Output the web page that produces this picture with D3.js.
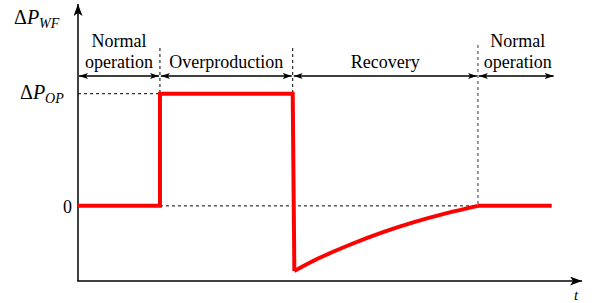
<!DOCTYPE html>
<html>
<head>
<meta charset="utf-8">
<script src="https://cdn.jsdelivr.net/npm/d3@7"></script>
<style>
  body { margin: 0; background: #fff; }
</style>
</head>
<body>
<svg width="592" height="303" font-family="'Liberation Serif', 'Times New Roman', 'DejaVu Serif', serif"></svg>
<script>
// phase boundaries (time units), and labels of each phase
let phaseBounds = [0, 1.0, 2.62, 4.88, 5.78];
let phaseLabels = [["Normal", "operation"], ["Overproduction"], ["Recovery"], ["Normal", "operation"]];

// power deviation curve (time, value)
let powerT = [0, 1.0, 1.0, 2.62, 2.64, 2.93, 3.34, 3.74, 4.08, 4.5, 4.88, 5.78];
let powerV = [0, 0, 1, 1, -0.58, -0.47, -0.34, -0.23, -0.15, -0.065, 0, 0];

let yTicks = [0, 1];
let yTickLabels = ["0", "ΔP_OP"];

let serif = "'Liberation Serif', 'Times New Roman', 'DejaVu Serif', serif";

let svg = d3.select("svg"),
    width = +svg.attr("width"),
    height = +svg.attr("height");

let x = d3.scaleLinear().domain([0, 6.15]).range([78, 582]);
let y = d3.scaleLinear().domain([-0.67, 1.8]).range([281, 4]);

let defs = svg.append("defs");
function marker(id, w, h, flip) {
    defs.append("marker")
        .attr("id", id)
        .attr("viewBox", `0 ${-h/2} ${w} ${h}`)
        .attr("refX", w).attr("refY", 0)
        .attr("markerUnits", "userSpaceOnUse")
        .attr("markerWidth", w).attr("markerHeight", h)
        .attr("orient", flip ? "auto-start-reverse" : "auto")
        .append("path")
        .attr("d", `M0,${-h/2}L${w},0L0,${h/2}L${w*0.25},0Z`)
        .attr("fill", "#000");
}
marker("axisArrow", 12, 9, false);
marker("spanArrow", 9, 6, true);

let dash = "3,3";

// dashed guides
let g = svg.append("g");
g.append("line")
    .attr("x1", x(0)).attr("x2", x(phaseBounds[1]))
    .attr("y1", y(yTicks[1])).attr("y2", y(yTicks[1]))
    .attr("stroke", "#000").attr("stroke-width", 1).attr("stroke-dasharray", dash);
g.append("line")
    .attr("x1", x(phaseBounds[1])).attr("x2", x(phaseBounds[3]))
    .attr("y1", y(yTicks[0])).attr("y2", y(yTicks[0]))
    .attr("stroke", "#000").attr("stroke-width", 1).attr("stroke-dasharray", dash);

// vertical phase separators
let sepBottom = [1, 1, 0];
phaseBounds.slice(1, 4).forEach((b, i) => {
    g.append("line")
        .attr("x1", x(b)).attr("x2", x(b))
        .attr("y1", i == 2 ? 45 : 48).attr("y2", y(sepBottom[i]))
        .attr("stroke", i == 2 ? "#777" : "#000")
        .attr("stroke-width", i == 2 ? 1.5 : 1)
        .attr("stroke-dasharray", dash);
});

// span arrows + phase labels
let arrowY = 76;
for (let i = 0; i < phaseBounds.length - 1; i++) {
    let x0 = x(phaseBounds[i]) + 1,
        x1 = x(phaseBounds[i + 1]) - 1;
    if (i == phaseBounds.length - 2) x1 = x(phaseBounds[i + 1]) + 2;
    g.append("line")
        .attr("x1", x0).attr("x2", x1)
        .attr("y1", arrowY).attr("y2", arrowY)
        .attr("stroke", "#000").attr("stroke-width", 1.3)
        .attr("marker-start", "url(#spanArrow)")
        .attr("marker-end", "url(#spanArrow)");

    let cx = (x(phaseBounds[i]) + x(phaseBounds[i + 1])) / 2;
    if (i == phaseBounds.length - 2) cx += 3;
    let lines = phaseLabels[i];
    lines.forEach((t, j) => {
        g.append("text")
            .attr("x", cx)
            .attr("y", 68 - (lines.length - 1 - j) * 21)
            .attr("text-anchor", "middle")
            .attr("font-family", serif)
            .attr("font-size", 18)
            .text(t);
    });
}

// axes
svg.append("line")
    .attr("x1", x(0)).attr("x2", x(0))
    .attr("y1", y(-0.67)).attr("y2", y(1.8))
    .attr("stroke", "#000").attr("stroke-width", 1.5)
    .attr("marker-end", "url(#axisArrow)");
svg.append("line")
    .attr("x1", x(0) - 0.75).attr("x2", x(6.15))
    .attr("y1", y(-0.67)).attr("y2", y(-0.67))
    .attr("stroke", "#000").attr("stroke-width", 1.5)
    .attr("marker-end", "url(#axisArrow)");

// power curve
let pts = powerT.map((t, i) => [t, powerV[i]]);
let line = d3.line().x(d => x(d[0])).y(d => y(d[1]));
let stepPart = pts.slice(0, 5), recPart = pts.slice(4, 11), endPart = pts.slice(10);
let red = svg.append("g")
    .attr("fill", "none").attr("stroke", "#f00").attr("stroke-width", 4);
red.append("path").attr("d", line(stepPart));
red.append("path").attr("d", d3.line().x(d => x(d[0])).y(d => y(d[1])).curve(d3.curveMonotoneX)(recPart));
red.append("path").attr("d", line(endPart));

// y labels
function deltaLabel(xp, yp, sub) {
    let t = svg.append("text").attr("x", xp).attr("y", yp)
        .attr("font-family", serif).attr("font-size", 20);
    t.append("tspan").text("Δ");
    t.append("tspan").attr("font-style", "italic").text("P");
    t.append("tspan").attr("font-style", "italic").attr("font-size", 14).attr("dy", 4).text(sub);
}
deltaLabel(14, 24, "WF");
deltaLabel(20, y(yTicks[1]) + 5, yTickLabels[1].split("_")[1]);

svg.append("text")
    .attr("x", 72).attr("y", y(yTicks[0]) + 7)
    .attr("text-anchor", "end")
    .attr("font-family", serif)
    .attr("font-size", 18)
    .text(yTickLabels[0]);

svg.append("text")
    .attr("x", 574).attr("y", 300)
    .attr("font-family", serif)
    .attr("font-size", 15)
    .attr("font-style", "italic")
    .text("t");
</script>
</body>
</html>
